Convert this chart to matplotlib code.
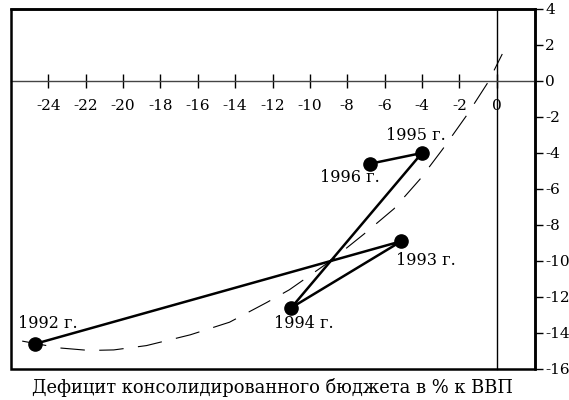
import matplotlib
matplotlib.use('Agg')
import matplotlib.pyplot as plt
from matplotlib.patches import Rectangle

# budget deficit (% of GDP) vs second indicator, by year
years = ['1992 г.', '1993 г.', '1994 г.', '1995 г.', '1996 г.']
deficit_x = [-24.7, -5.1, -11.0, -4.0, -6.8]
values_y = [-14.6, -8.9, -12.6, -4.0, -4.6]

# dashed trend curve
trend_x = [-25.4, -23.4, -21.8, -20.5, -18.75, -16.4, -14.3, -12.3, -11.1,
           -8.9, -7.1, -5.5, -4.1, -2.9, -1.6, -0.45, 0.3]
trend_y = [-14.45, -14.83, -14.97, -14.94, -14.7, -14.1, -13.4, -12.3, -11.6,
           -10.0, -8.5, -7.1, -5.45, -3.8, -1.9, -0.05, 1.5]

# where each year label sits (left edge, vertical centre)
label_x = [-25.6, -5.4, -11.9, -5.9, -9.45]
label_y = [-13.5, -9.95, -13.45, -3.0, -5.35]

x_ticks = list(range(-24, 1, 2))
y_ticks = list(range(-16, 5, 2))

plt.rcParams['font.family'] = ['DejaVu Serif']
plt.rcParams['axes.unicode_minus'] = False

fig = plt.figure(figsize=(5.69, 4.0), dpi=100)
ax = fig.add_axes([0.0193, 0.0775, 0.9209, 0.9])

ax.plot(trend_x, trend_y, color='black', lw=0.8, dashes=(22, 13))
ax.plot(deficit_x, values_y, color='black', lw=1.8, marker='o', markersize=9.5,
        solid_capstyle='round', zorder=3)

for name, lx, ly in zip(years, label_x, label_y):
    ax.text(lx, ly, name, fontsize=11.5, ha='left', va='center')

ax.set_xlim(-26, 2.05)
ax.set_ylim(-16, 4)

# crossing axes at zero
ax.spines['bottom'].set_position(('data', 0))
ax.spines['bottom'].set_linewidth(1.0)
ax.spines['bottom'].set_color('#444444')
ax.spines['left'].set_position(('data', 0))
ax.spines['left'].set_linewidth(1.0)
for side in ('top', 'right'):
    ax.spines[side].set_linewidth(1.8)

# outer frame (left and bottom edges)
ax.add_patch(Rectangle((0, 0), 1, 1, transform=ax.transAxes, fill=False,
                       lw=1.8, edgecolor='black', clip_on=False, zorder=5))

ax.yaxis.tick_right()
ax.set_yticks(y_ticks)
ax.tick_params(axis='y', direction='out', length=6, width=1, labelsize=11, pad=1.5)
ax.set_xticks(x_ticks)
ax.tick_params(axis='x', direction='inout', length=10, width=1, labelsize=11, pad=8)

fig.text(0.478, 0.032, 'Дефицит консолидированного бюджета в % к ВВП',
         fontsize=12.9, ha='center', va='center')

fig.savefig('out.png', dpi=100)
